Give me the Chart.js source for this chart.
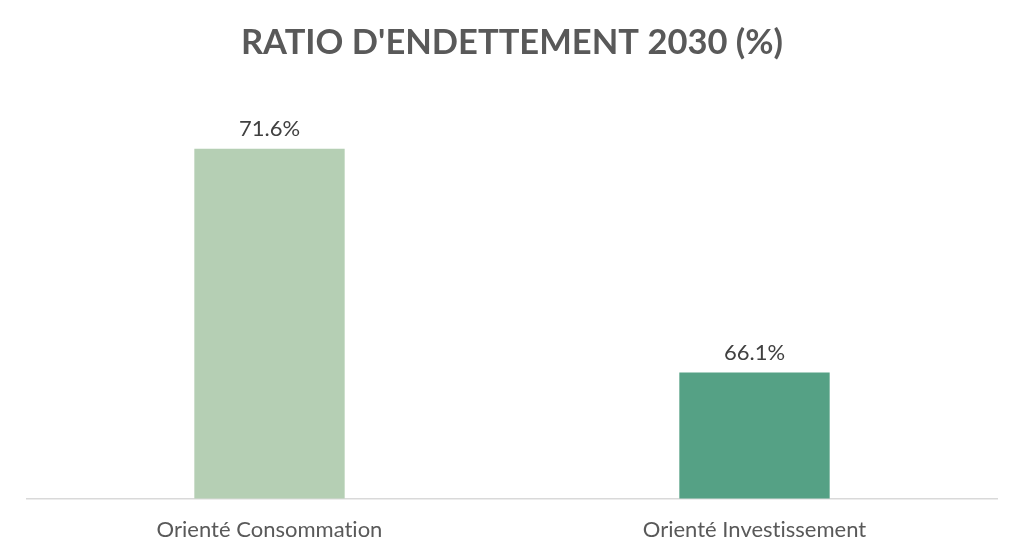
<!DOCTYPE html>
<html>
<head>
<meta charset="utf-8">
<script src="https://cdn.jsdelivr.net/npm/chart.js@4.4.1/dist/chart.umd.min.js"></script>
<style>
    html, body { margin: 0; padding: 0; background: #fff; }
    #wrap { width: 1024px; height: 556px; }
</style>
</head>
<body>
<div id="wrap"><canvas id="chart"></canvas></div>
<script>
// chart data
const categories = ['Orienté Consommation', 'Orienté Investissement'];
const ratios = [71.6, 66.1];
const barColors = ['#b5cfb4', '#55a185'];

// no "ti" ligature, like the original
const noLigatures = {
    id: 'noLigatures',
    beforeDraw(chart) {
        chart.ctx.letterSpacing = '0.01px';
    }
};

// draws the value above each bar
const valueLabels = {
    id: 'valueLabels',
    afterDatasetsDraw(chart) {
        const ctx = chart.ctx;
        const meta = chart.getDatasetMeta(0);
        ctx.save();
        ctx.font = '22px Lato';
        ctx.fillStyle = '#404040';
        ctx.textAlign = 'center';
        ctx.textBaseline = 'bottom';
        meta.data.forEach((bar, i) => {
            ctx.fillText(ratios[i].toFixed(1) + '%', bar.x, bar.y - 9);
        });
        ctx.restore();
    }
};

new Chart(document.getElementById('chart'), {
    type: 'bar',
    data: {
        labels: categories,
        datasets: [{
            data: ratios,
            backgroundColor: barColors,
            categoryPercentage: 1,
            barPercentage: 0.31
        }]
    },
    options: {
        responsive: true,
        maintainAspectRatio: false,
        animation: false,
        layout: { padding: { left: 27, right: 27, bottom: -5 } },
        plugins: {
            legend: { display: false },
            tooltip: { enabled: false },
            title: {
                display: true,
                text: "RATIO D'ENDETTEMENT 2030 (%)",
                color: '#595959',
                font: { family: 'Lato', size: 34.5, weight: 'bold' },
                padding: { top: 22, bottom: 69 }
            }
        },
        scales: {
            x: {
                grid: { display: false, drawTicks: false },
                border: { display: true, color: '#d9d9d9', width: 1.5 },
                ticks: {
                    color: '#595959',
                    padding: 18,
                    font: { family: 'Lato', size: 22 }
                }
            },
            y: {
                display: false,
                min: 63,
                max: 72
            }
        }
    },
    plugins: [noLigatures, valueLabels]
});
</script>
</body>
</html>
